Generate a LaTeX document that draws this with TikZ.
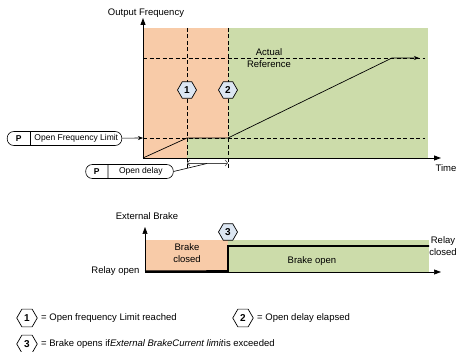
\documentclass[tikz,border=0pt]{standalone}
\usepackage{fontspec}
\setmainfont{Liberation Sans}
\usetikzlibrary{shapes.geometric,shapes.multipart,arrows.meta,positioning,calc}
\definecolor{BRKorange}{RGB}{248,203,168}
\definecolor{BRKgreen}{RGB}{204,220,170}
\definecolor{BRKblue}{RGB}{220,230,242}
\tikzstyle{hexa}  = [regular polygon, regular polygon sides=6, draw,
                     line width=0.7pt, fill=BRKblue, minimum size=19pt,
                     inner sep=0pt, font=\fontsize{10}{11}\selectfont\bfseries]
\tikzstyle{hexl}  = [hexa, fill=white, minimum size=20.5pt]
\tikzstyle{pbox}  = [rectangle split, rectangle split horizontal,
                     rectangle split parts=2, draw, rounded corners=6.5pt,
                     line width=0.6pt, inner xsep=3.5pt, inner ysep=3pt,
                     font=\fontsize{8.5}{10}\selectfont]
\tikzstyle{axis}  = [line width=0.9pt, -{Triangle[length=7pt,width=5pt]}]
\tikzstyle{baxis} = [line width=0.6pt, -{Triangle[length=7pt,width=5pt]}]
\tikzstyle{dline} = [dash pattern=on 4pt off 2.5pt, line width=0.6pt]
\tikzstyle{dim}   = [gray!60!black, line width=0.6pt,
                     {Straight Barb[length=2.5pt,width=6pt]}-{Straight Barb[length=2.5pt,width=6pt]}]

\begin{document}
\begin{tikzpicture}[x=1pt, y=-1pt, >={Stealth[length=5pt,width=4pt]},
                    font=\fontsize{9.5}{12}\selectfont]
  \useasboundingbox (0,0) rectangle (458,352);

  % output frequency chart
  \fill[BRKorange] (143,28) rectangle (228,158);
  \fill[BRKgreen]  (228,28) rectangle (428,158);
  \fill[BRKgreen]  (187,138) rectangle (228,158);

  \coordinate (o)    at (143,158);
  \coordinate (yt)   at (143,18);
  \coordinate (xt)   at (441,158);
  \coordinate (lim0) at (143,138);
  \coordinate (lim1) at (425,138);
  \coordinate (ref0) at (143,58);
  \coordinate (ref1) at (425,58);
  \coordinate (v1a)  at (187,28);
  \coordinate (v1b)  at (187,168);
  \coordinate (v2a)  at (228,28);
  \coordinate (v2b)  at (228,168);

  \draw[dline] (lim0) -- (lim1);
  \draw[dline] (ref0) -- (ref1);
  \draw[dline] (v1a) -- (v1b);
  \draw[dline] (v2a) -- (v2b);

  \coordinate (p1) at (187,138);
  \coordinate (p2) at (228,138);
  \coordinate (p3) at (392,58);
  \coordinate (p4) at (419,58);
  \draw[->, line width=0.7pt] (o) -- (p1) -- (p2) -- (p3) -- (p4);

  \draw[axis] (o) -- (yt);
  \draw[axis] (o) -- (xt);

  \node (yl)  at (146,13)  {Output Frequency};
  \node (tl)  at (446,168) {Time};
  \node[align=center] (act) at (269,58) {Actual\\Reference};

  \node[hexa] (m1) at (187,90) {1};
  \node[hexa] (m2) at (228,90) {2};

  \node[pbox] (ofl) at (64.5,138.5)
    {\makebox[16pt]{\textbf{P}}\nodepart{two}\makebox[84pt]{Open Frequency Limit}};
  \node[pbox] (od) at (129.5,171.5)
    {\makebox[15pt]{\textbf{P}}\nodepart{two}\makebox[58pt]{Open delay}};

  \draw[->, line width=0.6pt] (ofl) -- (lim0);

  \coordinate (d1)   at (187,163);
  \coordinate (d2)   at (228,163);
  \coordinate (dmid) at (207,163.5);
  \draw[dim] (d1) -- (d2);
  \draw[line width=0.6pt] (od.east) -- (dmid);

  % external brake chart
  \fill[BRKorange] (145,240) rectangle (228,272);
  \fill[BRKgreen]  (228,240) rectangle (429,272);

  \coordinate (bo)  at (145,272);
  \coordinate (byt) at (145,227);
  \coordinate (bxt) at (441,272);
  \coordinate (b1)  at (228,271);
  \coordinate (b2)  at (228,246);
  \coordinate (b3)  at (429,246);

  \draw[baxis] (bo) -- (byt);
  \draw[baxis] (bo) -- (bxt);
  \draw[line width=1.6pt] ($(bo)+(0,-0.8)$) -- (b1) -- (b2) -- (b3);

  \node (ebl) at (147,216) {External Brake};
  \node[align=center] (bc) at (187,253.5) {Brake\\closed};
  \node (bop) at (312,261) {Brake open};
  \node[anchor=east] (ro) at (143,271) {Relay open};
  \node[align=center] (rc) at (443,246) {Relay\\closed};
  \node[hexa] (m3) at (228,232) {3};

  % legend
  \node[hexl] (l1) at (27,318) {1};
  \node[right=0pt of l1] (t1) {= Open frequency Limit reached};
  \node[hexl] (l2) at (243,318) {2};
  \node[right=0pt of l2] (t2) {= Open delay elapsed};
  \node[hexl] (l3) at (27,344) {3};
  \node[right=0pt of l3] (t3)
    {= Brake opens if\textit{External Brake}\textit{Current limit}is exceeded};
\end{tikzpicture}
\end{document}
